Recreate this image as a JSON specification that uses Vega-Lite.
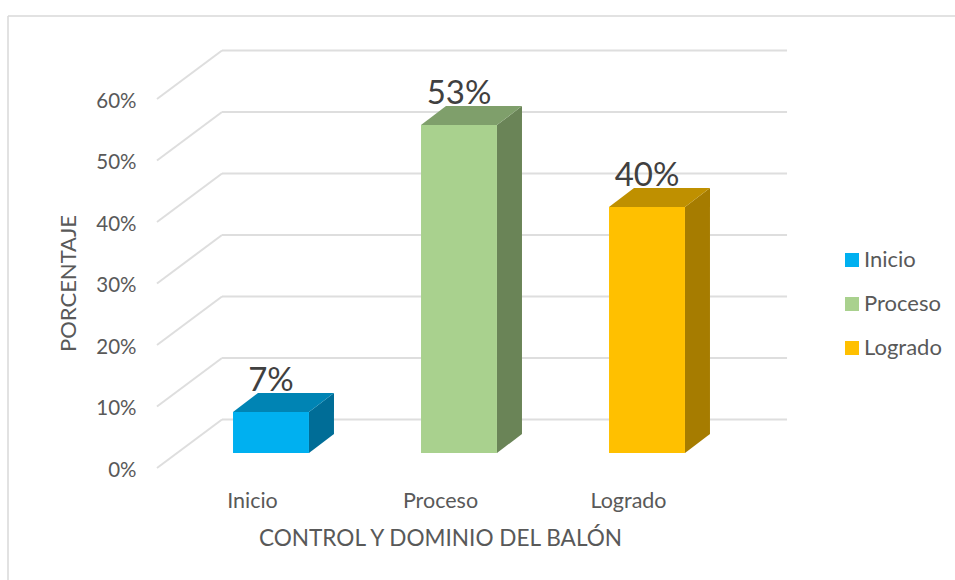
{
"$schema":"https://vega.github.io/schema/vega-lite/v6.json",
"width":947,"height":564,
"autosize":{"type":"none"},
"padding":{"left":8,"top":16,"right":0,"bottom":0},
"background":"white",
"config":{"view":{"stroke":null},"font":"Lato"},
"datasets":{
 "resultados":[{"categoria":"Inicio","porcentaje":6.67},{"categoria":"Proceso","porcentaje":53.33},{"categoria":"Logrado","porcentaje":40}],
 "niveles":[{"nivel":0},{"nivel":10},{"nivel":20},{"nivel":30},{"nivel":40},{"nivel":50},{"nivel":60}]
},
"layer":[
 {"data":{"name":"niveles"},
  "transform":[{"calculate":"datum.nivel+7.9","as":"fondo"},{"calculate":"-0.2606","as":"xa"},{"calculate":"2.745","as":"xb"}],
  "mark":{"type":"rule","color":"#dedede","strokeWidth":2},
  "encoding":{
   "x":{"field":"xa","type":"quantitative","scale":{"domain":[-1.3989,3.6383]},
     "axis":{"orient":"bottom","offset":-90,"domain":false,"ticks":false,"grid":false,"values":[0,1,2],
       "labelExpr":"['Inicio','Proceso','Logrado'][datum.value]","labelOffset":-19,"labelPadding":0,"labelBaseline":"top",
       "labelFont":"Lato","labelFontSize":21.5,"labelColor":"#595959",
       "title":"CONTROL Y DOMINIO DEL BALÓN","titleFont":"Lato","titleFontSize":22.6,"titleFontWeight":"normal","titleColor":"#595959",
       "titleX":432,"titleY":48,"titleAlign":"center","titleBaseline":"middle"}},
   "x2":{"field":"xb"},
   "y":{"field":"fondo","type":"quantitative","scale":{"domain":[-18.21,73.5]},
     "axis":{"orient":"left","offset":-128,"domain":false,"ticks":false,"grid":false,"values":[0,10,20,30,40,50,60],
       "labelExpr":"datum.value+'%'","labelPadding":0,"labelOffset":2,"labelFont":"Lato","labelFontSize":20.5,"labelColor":"#595959",
       "title":"PORCENTAJE","titleFont":"Lato","titleFontSize":22,"titleFontWeight":"normal","titleColor":"#595959",
       "titleX":-68,"titleY":267,"titleAngle":-90,"titleAlign":"center","titleBaseline":"middle"}}
  }},
 {"data":{"values":[{"marco":"borde"}]},"mark":{"type":"rule","color":"#d9d9d9","strokeWidth":1.5},
  "encoding":{"x":{"datum":-1.3989,"type":"quantitative","scale":{"domain":[-1.3989,3.6383]}}}},
 {"data":{"values":[{"marco":"borde"}]},"mark":{"type":"rule","color":"#d9d9d9","strokeWidth":1.5},
  "encoding":{"y":{"datum":73.5,"type":"quantitative","scale":{"domain":[-18.21,73.5]}}}},
 {"data":{"name":"niveles"},
  "transform":[{"calculate":"datum.nivel+7.9","as":"fondo"},{"calculate":"-0.6064","as":"xa"},{"calculate":"-0.2606","as":"xb"}],
  "mark":{"type":"rule","color":"#dedede","strokeWidth":2},
  "encoding":{
   "x":{"field":"xa","type":"quantitative","scale":{"domain":[-1.3989,3.6383]}},
   "x2":{"field":"xb"},
   "y":{"field":"nivel","type":"quantitative","scale":{"domain":[-18.21,73.5]}},
   "y2":{"field":"fondo"}
  }},
 {"data":{"name":"resultados"},
  "transform":[
   {"calculate":"indexof(['Inicio','Proceso','Logrado'],datum.categoria)","as":"idx"},
   {"calculate":"0","as":"frente"},{"calculate":"1","as":"atras"},
   {"fold":["frente","atras"],"as":["cara","d"]},
   {"calculate":"datum.idx+0.202+datum.d*0.133","as":"xp"},
   {"calculate":"datum.porcentaje+2.44+datum.d*3.09","as":"ytop"},
   {"calculate":"2.44+datum.d*3.09","as":"ybase"}
  ],
  "mark":{"type":"area","orient":"vertical"},
  "encoding":{
   "x":{"field":"xp","type":"quantitative","scale":{"domain":[-1.3989,3.6383]}},
   "y":{"field":"ytop","type":"quantitative","scale":{"domain":[-18.21,73.5]},"stack":null},
   "y2":{"field":"ybase"},
   "fill":{"field":"categoria","type":"nominal","scale":{"domain":["Inicio","Proceso","Logrado"],"range":["#006D97","#6A8457","#A67C00"]},"legend":null}
  }},
 {"data":{"name":"resultados"},
  "transform":[
   {"calculate":"indexof(['Inicio','Proceso','Logrado'],datum.categoria)","as":"idx"},
   {"calculate":"0","as":"frente"},{"calculate":"1","as":"atras"},
   {"fold":["frente","atras"],"as":["cara","d"]},
   {"calculate":"datum.idx-0.202+datum.d*0.133","as":"xa"},
   {"calculate":"datum.idx+0.202+datum.d*0.133","as":"xb"},
   {"calculate":"datum.porcentaje+2.44+datum.d*3.09","as":"ytop"}
  ],
  "mark":{"type":"area","orient":"horizontal"},
  "encoding":{
   "y":{"field":"ytop","type":"quantitative","scale":{"domain":[-18.21,73.5]}},
   "x":{"field":"xa","type":"quantitative","scale":{"domain":[-1.3989,3.6383]},"stack":null},
   "x2":{"field":"xb"},
   "fill":{"field":"categoria","type":"nominal","scale":{"domain":["Inicio","Proceso","Logrado"],"range":["#0084B4","#7F9F6B","#BF9000"]},"legend":null}
  }},
 {"data":{"name":"resultados"},
  "transform":[
   {"calculate":"indexof(['Inicio','Proceso','Logrado'],datum.categoria)","as":"idx"},
   {"calculate":"datum.idx-0.202","as":"xa"},{"calculate":"datum.idx+0.202","as":"xb"},
   {"calculate":"datum.porcentaje+2.44","as":"ytop"},{"calculate":"2.44","as":"ybase"}
  ],
  "mark":{"type":"rect"},
  "encoding":{
   "x":{"field":"xa","type":"quantitative","scale":{"domain":[-1.3989,3.6383]}},
   "x2":{"field":"xb"},
   "y":{"field":"ytop","type":"quantitative","scale":{"domain":[-18.21,73.5]}},
   "y2":{"field":"ybase"},
   "fill":{"field":"categoria","type":"nominal","scale":{"domain":["Inicio","Proceso","Logrado"],"range":["#00B0F0","#A9D18E","#FFC000"]},
     "legend":{"orient":"none","legendX":833,"legendY":233,"title":null,"symbolType":"square","symbolSize":196,"symbolStrokeWidth":0,
       "labelFont":"Lato","labelFontSize":22,"labelColor":"#595959","labelOffset":1,"rowPadding":22}}
  }},
 {"data":{"name":"resultados"},
  "transform":[
   {"calculate":"indexof(['Inicio','Proceso','Logrado'],datum.categoria)","as":"idx"},
   {"calculate":"datum.porcentaje+2.44+3.09+0.3","as":"ytext"},
   {"calculate":"format(round(datum.porcentaje),'d')+'%'","as":"etiqueta"}
  ],
  "mark":{"type":"text","font":"Lato","fontSize":33,"color":"#404040","baseline":"alphabetic","align":"center"},
  "encoding":{
   "x":{"field":"idx","type":"quantitative","scale":{"domain":[-1.3989,3.6383]}},
   "y":{"field":"ytext","type":"quantitative","scale":{"domain":[-18.21,73.5]}},
   "text":{"field":"etiqueta"}
  }}
],
"resolve":{"scale":{"fill":"independent"}}
}
